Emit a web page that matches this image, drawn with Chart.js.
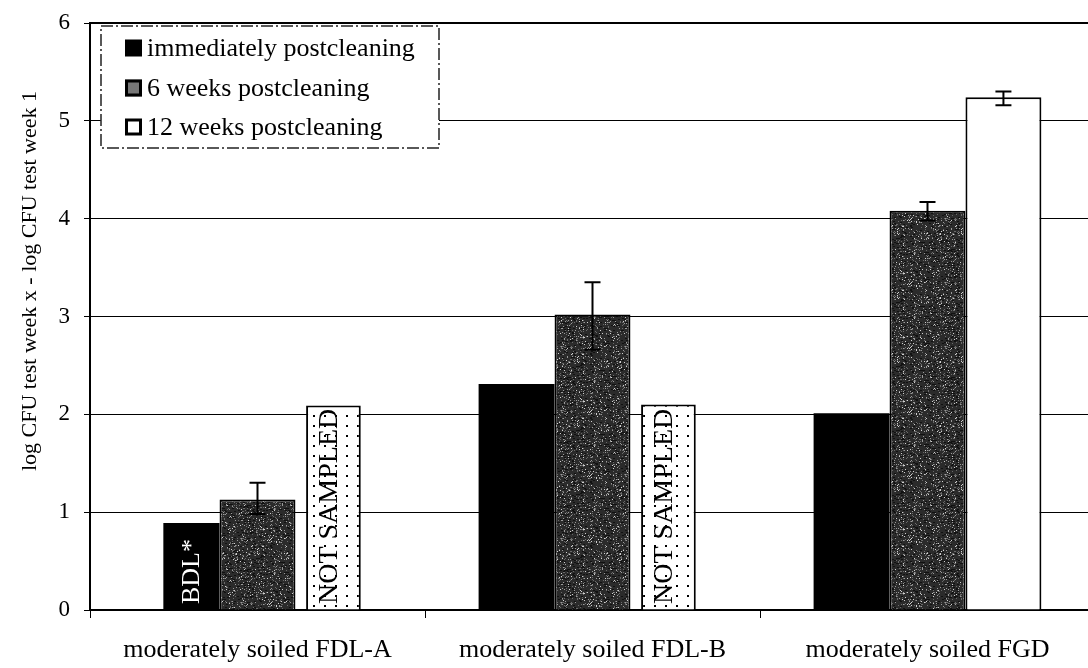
<!DOCTYPE html>
<html>
<head>
<meta charset="utf-8">
<script src="https://cdn.jsdelivr.net/npm/chart.js@4.4.1/dist/chart.umd.min.js"></script>
<style>
  html, body { margin: 0; padding: 0; background: #fff; overflow: hidden; }
  #wrap { width: 1100px; height: 668px; position: relative; }
</style>
</head>
<body>
<div id="wrap"><canvas id="grafico"></canvas></div>
<script>
// dados
const categories = ['moderately soiled FDL-A', 'moderately soiled FDL-B', 'moderately soiled FGD'];
const seriesNames = ['immediately postcleaning', '6 weeks postcleaning', '12 weeks postcleaning'];
const immediate = [0.89, 2.31, 2.01];
const weeks6 = [1.13, 3.02, 4.08];
const weeks12 = [2.09, 2.10, 5.24];
const weeks6Low = [0.98, 2.66, 3.98];
const weeks6High = [1.30, 3.35, 4.17];
const weeks12Low = [null, null, 5.16];
const weeks12High = [null, null, 5.30];
const notesImmediate = ['BDL*', '', ''];
const notes12 = ['NOT SAMPLED', 'NOT SAMPLED', ''];
const yTicks = [0, 1, 2, 3, 4, 5, 6];
const yTitle = 'log CFU test week x - log CFU test week 1';

const SERIF = '"Liberation Serif", "Times New Roman", serif';

// textura granulada para 6 semanas
function grainPattern() {
  const c = document.createElement('canvas');
  c.width = 64; c.height = 64;
  const g = c.getContext('2d');
  g.fillStyle = '#2b2b2b';
  g.fillRect(0, 0, 64, 64);
  let s = 12345;
  function rnd() { s = (s * 1103515245 + 12345) % 2147483648; return s / 2147483648; }
  for (let i = 0; i < 700; i++) {
    const x = Math.floor(rnd() * 64), y = Math.floor(rnd() * 64);
    const v = rnd();
    g.fillStyle = v < 0.5 ? '#6a6a6a' : (v < 0.8 ? '#9a9a9a' : '#d0d0d0');
    g.fillRect(x, y, 1, 1);
  }
  for (let i = 0; i < 250; i++) {
    const x = Math.floor(rnd() * 64), y = Math.floor(rnd() * 64);
    g.fillStyle = '#111';
    g.fillRect(x, y, 2, 1);
  }
  return g.createPattern(c, 'repeat');
}

// pontilhado para "NOT SAMPLED"
function dotPattern() {
  const c = document.createElement('canvas');
  c.width = 11; c.height = 10;
  const g = c.getContext('2d');
  g.fillStyle = '#fff';
  g.fillRect(0, 0, 11, 10);
  g.fillStyle = '#000';
  g.fillRect(5, 5, 2, 2);
  return g.createPattern(c, 'repeat');
}

const grain = grainPattern();
const dots = dotPattern();

// barras com anotação ficam mais estreitas
const narrowBars = {
  id: 'narrowBars',
  afterDatasetsUpdate(chart) {
    const m0 = chart.getDatasetMeta(0);
    m0.data.forEach((el, i) => {
      if (notesImmediate[i]) {
        const nw = el.width * 0.74;
        el.x += (el.width - nw) / 2;
        el.width = nw;
      }
    });
    const m2 = chart.getDatasetMeta(2);
    m2.data.forEach((el, i) => {
      if (notes12[i]) {
        el.width = el.width * 0.72;
      }
    });
  }
};

// barras de erro, textos dentro das barras, título do eixo e legenda
const extras = {
  id: 'extras',
  afterDatasetsDraw(chart) {
    const ctx = chart.ctx;
    const y = chart.scales.y;
    function errBars(meta, lo, hi) {
      meta.data.forEach((el, i) => {
        if (lo[i] == null) return;
        const x = el.x;
        const yl = y.getPixelForValue(lo[i]);
        const yh = y.getPixelForValue(hi[i]);
        ctx.save();
        ctx.strokeStyle = '#000';
        ctx.lineWidth = 2;
        ctx.beginPath();
        ctx.moveTo(x, yl); ctx.lineTo(x, yh);
        ctx.moveTo(x - 8, yl); ctx.lineTo(x + 8, yl);
        ctx.moveTo(x - 8, yh); ctx.lineTo(x + 8, yh);
        ctx.stroke();
        ctx.restore();
      });
    }
    errBars(chart.getDatasetMeta(1), weeks6Low, weeks6High);
    errBars(chart.getDatasetMeta(2), weeks12Low, weeks12High);

    function notes(meta, list, color, size, dx) {
      meta.data.forEach((el, i) => {
        if (!list[i]) return;
        const bottom = y.getPixelForValue(0);
        ctx.save();
        ctx.translate(el.x + dx, bottom - 6);
        ctx.rotate(-Math.PI / 2);
        ctx.font = size + 'px ' + SERIF;
        ctx.fillStyle = color;
        ctx.textAlign = 'left';
        ctx.textBaseline = 'middle';
        ctx.fillText(list[i], 0, 1);
        ctx.restore();
      });
    }
    notes(chart.getDatasetMeta(0), notesImmediate, '#fff', 26, 0);
    notes(chart.getDatasetMeta(2), notes12, '#000', 28, -5);

    // borda superior do gráfico
    const a = chart.chartArea;
    ctx.save();
    ctx.strokeStyle = '#000';
    ctx.lineWidth = 2;
    ctx.beginPath();
    ctx.moveTo(a.left, a.top); ctx.lineTo(a.right, a.top);
    ctx.stroke();
    ctx.restore();

    // título do eixo y
    ctx.save();
    ctx.translate(30, 281);
    ctx.rotate(-Math.PI / 2);
    ctx.font = '22px ' + SERIF;
    ctx.fillStyle = '#000';
    ctx.textAlign = 'center';
    ctx.textBaseline = 'middle';
    ctx.fillText(yTitle, 0, 0);
    ctx.restore();

    // legenda desenhada dentro da área do gráfico
    const lx = 101, ly = 26, lw = 338, lh = 122;
    ctx.save();
    ctx.fillStyle = '#fff';
    ctx.fillRect(lx, ly, lw, lh);
    ctx.setLineDash([12, 3, 2, 3]);
    ctx.strokeStyle = '#222';
    ctx.lineWidth = 1.5;
    ctx.strokeRect(lx, ly, lw, lh);
    ctx.setLineDash([]);
    const rows = [48, 88, 127];
    ctx.font = '26px ' + SERIF;
    ctx.textBaseline = 'middle';
    seriesNames.forEach((name, i) => {
      const ry = rows[i];
      const bx = 125, bs = 17;
      if (i === 0) {
        ctx.fillStyle = '#000';
        ctx.fillRect(bx, ry - bs / 2, bs, bs);
      } else if (i === 1) {
        ctx.fillStyle = '#777';
        ctx.fillRect(bx, ry - bs / 2, bs, bs);
        ctx.lineWidth = 3;
        ctx.strokeStyle = '#000';
        ctx.strokeRect(bx + 1.5, ry - bs / 2 + 1.5, bs - 3, bs - 3);
      } else {
        ctx.fillStyle = '#fff';
        ctx.fillRect(bx, ry - bs / 2, bs, bs);
        ctx.lineWidth = 3;
        ctx.strokeStyle = '#000';
        ctx.strokeRect(bx + 1.5, ry - bs / 2 + 1.5, bs - 3, bs - 3);
      }
      ctx.fillStyle = '#000';
      ctx.fillText(name, 147, ry + 1);
    });
    ctx.restore();
  }
};

new Chart(document.getElementById('grafico'), {
  type: 'bar',
  data: {
    labels: categories,
    datasets: [
      {
        label: seriesNames[0],
        data: immediate,
        backgroundColor: '#000',
        borderColor: '#000',
        borderWidth: 0
      },
      {
        label: seriesNames[1],
        data: weeks6,
        backgroundColor: grain,
        borderColor: '#000',
        borderWidth: 2
      },
      {
        label: seriesNames[2],
        data: weeks12,
        backgroundColor: notes12.map(n => n ? dots : '#fff'),
        borderColor: '#000',
        borderWidth: 2
      }
    ]
  },
  plugins: [narrowBars, extras],
  options: {
    responsive: true,
    maintainAspectRatio: false,
    animation: false,
    layout: { padding: { left: 0, top: 23, right: 5, bottom: 0 } },
    datasets: {
      bar: { categoryPercentage: 0.68, barPercentage: 1.0 }
    },
    scales: {
      x: {
        grid: {
          offset: true,
          drawOnChartArea: false,
          drawTicks: true,
          tickLength: 8,
          color: '#000'
        },
        border: { display: true, color: '#000', width: 2 },
        ticks: {
          color: '#000',
          padding: 17,
          font: { family: SERIF, size: 26 }
        },
        afterFit(scale) { scale.height = 58; }
      },
      y: {
        min: 0,
        max: 6,
        afterBuildTicks(scale) { scale.ticks = yTicks.map(v => ({ value: v })); },
        grid: {
          color: '#000',
          lineWidth: 1,
          drawTicks: true,
          tickLength: 6
        },
        border: { display: true, color: '#000', width: 2 },
        ticks: {
          color: '#000',
          padding: 14,
          font: { family: SERIF, size: 23 }
        },
        afterFit(scale) {
          scale.width = 90;
          scale.paddingTop = 0;
          scale.paddingBottom = 0;
        }
      }
    },
    plugins: {
      legend: { display: false },
      tooltip: { enabled: false }
    }
  }
});
</script>
</body>
</html>
